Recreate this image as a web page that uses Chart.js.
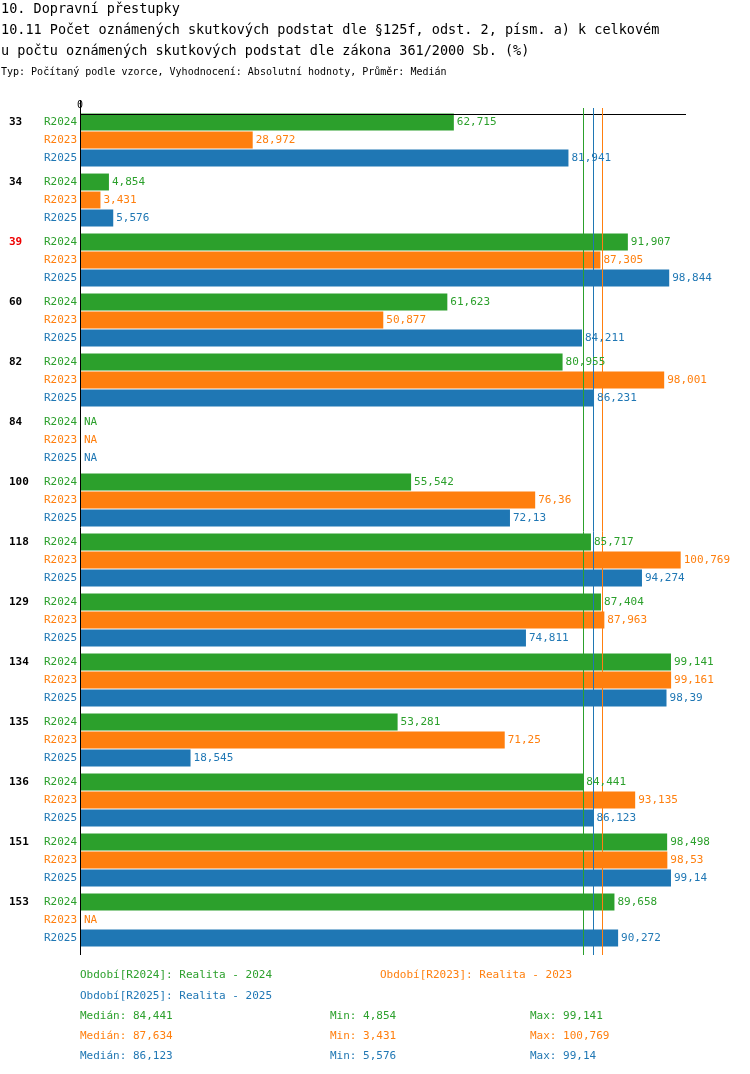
<!DOCTYPE html>
<html><head><meta charset="utf-8">
<script src="https://cdn.jsdelivr.net/npm/chart.js@4"></script>
<style>
body{margin:0;background:#fff;font-family:"DejaVu Sans Mono",monospace;}
#wrap{position:relative;width:750px;height:1074px;}
canvas{position:absolute;left:0;top:0;}
.t{position:absolute;white-space:pre;font-size:11px;}
</style></head><body>
<div id="wrap">
<canvas id="c" width="750" height="1074"></canvas>
<div class="t" style="left:1px;top:0px;font-size:13.5px;">10. Dopravní přestupky</div>
<div class="t" style="left:1px;top:21px;font-size:13.5px;">10.11 Počet oznámených skutkových podstat dle §125f, odst. 2, písm. a) k celkovém</div>
<div class="t" style="left:1px;top:42px;font-size:13.5px;">u počtu oznámených skutkových podstat dle zákona 361/2000 Sb. (%)</div>
<div class="t" style="left:1px;top:66px;font-size:10px;">Typ: Počítaný podle vzorce, Vyhodnocení: Absolutní hodnoty, Průměr: Medián</div>
<div class="t" style="left:80px;top:968px;color:#2ca02c">Období[R2024]: Realita - 2024</div>
<div class="t" style="left:380px;top:968px;color:#ff7f0e">Období[R2023]: Realita - 2023</div>
<div class="t" style="left:80px;top:989px;color:#1f77b4">Období[R2025]: Realita - 2025</div>
<div class="t" style="left:80px;top:1009px;color:#2ca02c">Medián: 84,441</div>
<div class="t" style="left:330px;top:1009px;color:#2ca02c">Min: 4,854</div>
<div class="t" style="left:530px;top:1009px;color:#2ca02c">Max: 99,141</div>
<div class="t" style="left:80px;top:1029px;color:#ff7f0e">Medián: 87,634</div>
<div class="t" style="left:330px;top:1029px;color:#ff7f0e">Min: 3,431</div>
<div class="t" style="left:530px;top:1029px;color:#ff7f0e">Max: 100,769</div>
<div class="t" style="left:80px;top:1049px;color:#1f77b4">Medián: 86,123</div>
<div class="t" style="left:330px;top:1049px;color:#1f77b4">Min: 5,576</div>
<div class="t" style="left:530px;top:1049px;color:#1f77b4">Max: 99,14</div>
</div>
<script>
const categories=["33","34","39","60","82","84","100","118","129","134","135","136","151","153"];
const seriesNames=["R2024","R2023","R2025"];
const r2024=[62.715,4.854,91.907,61.623,80.955,null,55.542,85.717,87.404,99.141,53.281,84.441,98.498,89.658];
const r2023=[28.972,3.431,87.305,50.877,98.001,null,76.36,100.769,87.963,99.161,71.25,93.135,98.53,null];
const r2025=[81.941,5.576,98.844,84.211,86.231,null,72.13,94.274,74.811,98.39,18.545,86.123,99.14,90.272];
const medians=[84.441,87.634,86.123];
const colors=["#2ca02c","#ff7f0e","#1f77b4"];
const redLabels=["39"];
const fmt=v=>String(v).replace('.',',');
const F='11px "DejaVu Sans Mono", monospace';
const deco={id:'deco',afterDatasetsDraw(ch){
 const ctx=ch.ctx,a=ch.chartArea,xs=ch.scales.x;
 ctx.save();
 ctx.strokeStyle='#000';ctx.lineWidth=1;
 ctx.beginPath();ctx.moveTo(a.left,114.5);ctx.lineTo(a.right,114.5);ctx.stroke();
 ctx.beginPath();ctx.moveTo(80.5,100);ctx.lineTo(80.5,955);ctx.stroke();
 ctx.font='10px "DejaVu Sans Mono", monospace';ctx.fillStyle='#000';ctx.textAlign='center';ctx.textBaseline='bottom';
 ctx.fillText('0',a.left,110);
 medians.forEach((m,i)=>{const x=Math.round(xs.getPixelForValue(m))+0.5;ctx.strokeStyle=colors[i];ctx.beginPath();ctx.moveTo(x,108);ctx.lineTo(x,955);ctx.stroke();});
 ctx.textBaseline='middle';
 ch.data.datasets.forEach((ds,di)=>{
  const meta=ch.getDatasetMeta(di);
  meta.data.forEach((bar,i)=>{
   const y=bar.y,v=ds.data[i];
   ctx.font=F;ctx.fillStyle=colors[di];ctx.textAlign='right';
   ctx.fillText(seriesNames[di],77,y);
   ctx.textAlign='left';
   if(v==null)ctx.fillText('NA',84,y);
   else ctx.fillText(fmt(v),bar.x+3,y);
   if(di===0){ctx.font='bold 11px "DejaVu Sans Mono", monospace';ctx.fillStyle=redLabels.includes(categories[i])?'#e00':'#000';ctx.textAlign='left';ctx.fillText(categories[i],9,y);}
  });
 });
 ctx.restore();
}};
new Chart(document.getElementById('c'),{type:'bar',
 data:{labels:categories,datasets:[r2024,r2023,r2025].map((d,i)=>({label:seriesNames[i],data:d,backgroundColor:colors[i],categoryPercentage:0.9,barPercentage:0.94}))},
 options:{indexAxis:'y',responsive:false,animation:false,
  layout:{padding:{left:80,right:64,top:110,bottom:124}},
  plugins:{legend:{display:false},tooltip:{enabled:false}},
  scales:{x:{display:false,min:0,max:101.66},y:{display:false}}},
 plugins:[deco]});
</script>
</body></html>
